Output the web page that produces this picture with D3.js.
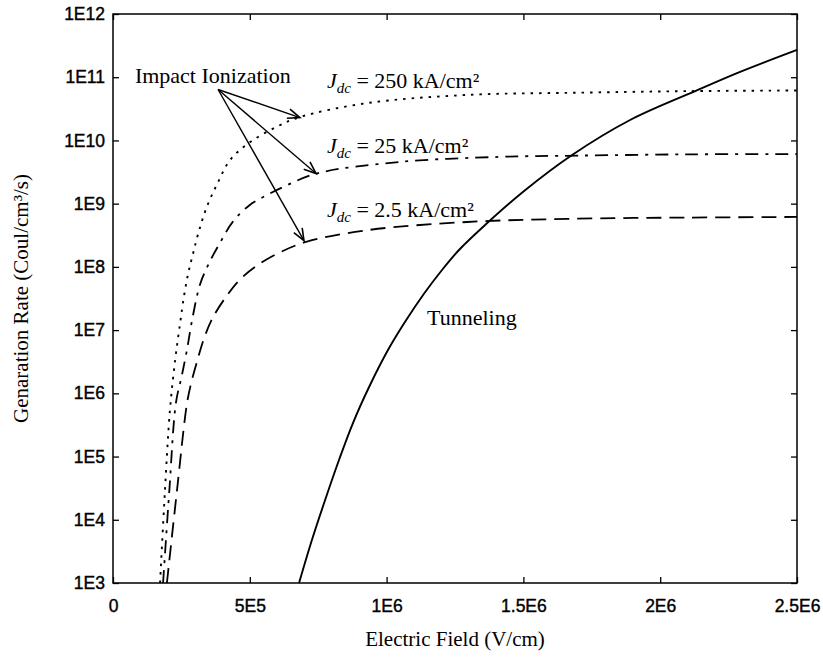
<!DOCTYPE html>
<html><head><meta charset="utf-8">
<script src="https://cdn.jsdelivr.net/npm/d3@7/dist/d3.min.js"></script>
<style>body{margin:0;background:#fff}</style>
</head><body>
<svg id="chart" width="823" height="664"></svg>
<script>
// ---- data ----
const xTickValues = [0, 5e5, 1e6, 1.5e6, 2e6, 2.5e6];
const xTickLabels = ["0", "5E5", "1E6", "1.5E6", "2E6", "2.5E6"];
const yTickValues = [1e3, 1e4, 1e5, 1e6, 1e7, 1e8, 1e9, 1e10, 1e11, 1e12];
const yTickLabels = ["1E3", "1E4", "1E5", "1E6", "1E7", "1E8", "1E9", "1E10", "1E11", "1E12"];

// [Electric field (V/cm), log10 generation rate]
const impact250 = [[1.72e5,3.0],[1.9e5,4.47],[2.08e5,5.73],[2.27e5,6.52],[2.45e5,7.1],[2.6e5,7.55],[2.75e5,7.9],[2.92e5,8.2],[3.13e5,8.55],[3.43e5,8.95],[3.84e5,9.34],[4.28e5,9.69],[5.0e5,9.97],[6.0e5,10.22],[6.83e5,10.37],[9.28e5,10.59],[1.294e6,10.72],[1.7e6,10.755],[2.1e6,10.78],[2.5e6,10.79]];
const impact25 = [[1.83e5,3.0],[2.06e5,4.47],[2.3e5,5.85],[2.5e5,6.25],[2.7e5,6.68],[2.9e5,7.18],[3.18e5,7.72],[3.5e5,8.05],[3.91e5,8.38],[4.39e5,8.72],[5.0e5,8.98],[5.6e5,9.13],[6.3e5,9.28],[7.46e5,9.48],[1.049e6,9.66],[1.414e6,9.74],[1.7e6,9.76],[2.1e6,9.78],[2.5e6,9.785]];
const impact2p5 = [[1.97e5,3.0],[2.34e5,4.47],[2.70e5,5.83],[2.85e5,6.15],[3.07e5,6.5],[3.32e5,6.86],[3.65e5,7.2],[4.17e5,7.55],[4.64e5,7.8],[5.26e5,8.02],[6.10e5,8.23],[7.09e5,8.40],[9.28e5,8.58],[1.294e6,8.71],[1.66e6,8.76],[2.1e6,8.78],[2.5e6,8.79]];
const tunneling = [[6.80e5,3.0],[7.27e5,3.68],[7.79e5,4.36],[8.26e5,4.945],[8.77e5,5.53],[9.36e5,6.10],[1.005e6,6.685],[1.067e6,7.128],[1.1385e6,7.587],[1.2025e6,7.951],[1.2646e6,8.267],[1.356e6,8.647],[1.507e6,9.216],[1.678e6,9.77],[1.89e6,10.323],[2.138e6,10.798],[2.292e6,11.083],[2.5e6,11.431]];

const arrowStart = [3.84e5, 6.4e10];
const arrowEnds = [[6.83e5, 2.3e10], [7.42e5, 3.0e9], [6.98e5, 2.6e8]];

const jdcLabels = [
  {value: "250", at: [7.82e5, 6.7e10]},
  {value: "25", at: [7.82e5, 6.3e9]},
  {value: "2.5", at: [7.82e5, 6.2e8]}
];
const impactLabel = {text: "Impact Ionization", at: [8.0e4, 8.1e10]};
const tunnelLabel = {text: "Tunneling", at: [1.148e6, 1.2e7]};
const xTitle = "Electric Field (V/cm)";
const yTitle = "Genaration Rate (Coul/cm³/s)";

// ---- layout ----
const W = 823, H = 664;
const m = {left: 113, right: 26, top: 14, bottom: 81};
const svg = d3.select("#chart");
const x = d3.scaleLinear().domain([0, 2.5e6]).range([m.left, W - m.right]);
const y = d3.scaleLog().domain([1e3, 1e12]).range([H - m.bottom, m.top]);

const serif = "'Liberation Serif','Times New Roman',Times,serif";
const sans = "'Liberation Sans',Arial,Helvetica,sans-serif";

const lineGen = d3.line().x(d => x(d[0])).y(d => y(Math.pow(10, d[1]))).curve(d3.curveCatmullRom.alpha(0.5));

const plot = svg.append("g");
function drawSeries(data, dash, width) {
  plot.append("path").datum(data).attr("d", lineGen)
    .attr("fill", "none").attr("stroke", "#000").attr("stroke-width", width)
    .attr("stroke-dasharray", dash).attr("stroke-linecap", "butt");
}
drawSeries(impact250, "2.5,6", 1.9);
drawSeries(impact25, "13,7,3,7", 1.8);
drawSeries(impact2p5, "15,8", 1.8);
drawSeries(tunneling, null, 1.9);

// ---- axes ----
const tickLen = 6;
const axB = svg.append("g").attr("transform", `translate(0,${H - m.bottom})`)
  .call(d3.axisBottom(x).tickValues(xTickValues).tickFormat((d, i) => xTickLabels[i]).tickSizeInner(-tickLen).tickSizeOuter(0).tickPadding(17));
const axT = svg.append("g").attr("transform", `translate(0,${m.top})`)
  .call(d3.axisTop(x).tickValues(xTickValues).tickFormat("").tickSizeInner(-tickLen).tickSizeOuter(0));
const axL = svg.append("g").attr("transform", `translate(${m.left},0)`)
  .call(d3.axisLeft(y).tickValues(yTickValues).tickFormat((d, i) => yTickLabels[i]).tickSizeInner(-tickLen).tickSizeOuter(0).tickPadding(8));
const axR = svg.append("g").attr("transform", `translate(${W - m.right},0)`)
  .call(d3.axisRight(y).tickValues(yTickValues).tickFormat("").tickSizeInner(-tickLen).tickSizeOuter(0));
[axB, axT, axL, axR].forEach(a => {
  a.select(".domain").remove();
  a.selectAll(".tick line").attr("stroke", "#000").attr("stroke-width", 1.3);
  a.selectAll("text").attr("font-family", sans).attr("font-size", 17.5).attr("fill", "#000")
    .attr("stroke", "#000").attr("stroke-width", 0.4);
});
svg.append("rect").attr("x", m.left).attr("y", m.top)
  .attr("width", W - m.left - m.right).attr("height", H - m.top - m.bottom)
  .attr("fill", "none").attr("stroke", "#000").attr("stroke-width", 1.5);

// ---- arrows ----
const sx = x(arrowStart[0]), sy = y(arrowStart[1]);
arrowEnds.forEach(e => {
  const ex = x(e[0]), ey = y(e[1]);
  svg.append("line").attr("x1", sx).attr("y1", sy).attr("x2", ex).attr("y2", ey)
    .attr("stroke", "#000").attr("stroke-width", 1.4);
  const ang = Math.atan2(ey - sy, ex - sx);
  const L = 13, a = 0.38;
  const p1 = [ex - L * Math.cos(ang - a), ey - L * Math.sin(ang - a)];
  const p2 = [ex - L * Math.cos(ang + a), ey - L * Math.sin(ang + a)];
  svg.append("path").attr("d", `M${p1[0]},${p1[1]}L${ex},${ey}L${p2[0]},${p2[1]}`)
    .attr("fill", "none").attr("stroke", "#000").attr("stroke-width", 1.6);
});

// ---- labels ----
const annSize = 22;
svg.append("text").attr("x", x(impactLabel.at[0])).attr("y", y(impactLabel.at[1]))
  .attr("font-family", serif).attr("font-size", annSize).text(impactLabel.text);
svg.append("text").attr("x", x(tunnelLabel.at[0])).attr("y", y(tunnelLabel.at[1]))
  .attr("font-family", serif).attr("font-size", annSize).text(tunnelLabel.text);
jdcLabels.forEach(l => {
  const t = svg.append("text").attr("x", x(l.at[0])).attr("y", y(l.at[1]))
    .attr("font-family", serif).attr("font-size", annSize);
  t.append("tspan").attr("font-style", "italic").text("J");
  t.append("tspan").attr("font-style", "italic").attr("font-size", 15).attr("dy", 5).text("dc");
  t.append("tspan").attr("dy", -5).text(" = " + l.value + " kA/cm²");
});

svg.append("text").attr("x", (m.left + W - m.right) / 2).attr("y", 646)
  .attr("text-anchor", "middle").attr("font-family", serif).attr("font-size", 21).text(xTitle);
svg.append("text").attr("transform", `translate(28,${(m.top + H - m.bottom) / 2}) rotate(-90)`)
  .attr("text-anchor", "middle").attr("font-family", serif).attr("font-size", 21).text(yTitle);
</script>
</body></html>
